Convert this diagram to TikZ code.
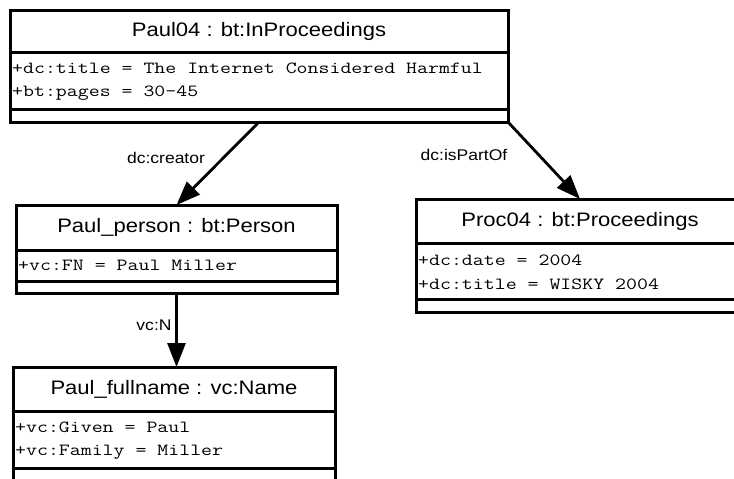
\documentclass[tikz,border=0pt]{standalone}
\usepackage{fontspec}
\setmainfont{Liberation Sans}[FakeStretch=1.13]
\setmonofont{Latin Modern Mono}[FakeStretch=1.25]
\usetikzlibrary{arrows.meta}
\tikzset{
  umlbox/.style={draw, line width=3pt, rectangle, inner sep=0pt, outer sep=0pt, anchor=north west},
  sepline/.style={line width=3pt},
  titletext/.style={inner sep=0pt, font=\fontsize{19.5}{21}\selectfont},
  attrtext/.style={inner sep=0pt, anchor=west, font=\ttfamily\fontsize{17}{19}\selectfont},
  lbl/.style={inner sep=0pt, font=\fontsize{15.5}{17}\selectfont},
  assoc/.style={line width=2.8pt, -{Triangle[length=24pt,width=18pt]}},
}
\begin{document}
\begin{tikzpicture}[x=1pt,y=-1pt]
\useasboundingbox (0,0) rectangle (734,479);
\clip (0,0) rectangle (734,479);
% Paul04
\node[umlbox, minimum width=498pt, minimum height=112pt] (b1) at (10,10) {};
\draw[sepline] (10,52) -- (508,52);
\draw[sepline] (10,109) -- (508,109);
\node[titletext] (b1t) at (259,31) {Paul04 : bt:InProceedings};
\node[attrtext] (b1a) at (12,68) {+dc:title = The Internet Considered Harmful};
\node[attrtext] (b1b) at (12,93) {+bt:pages = 30-45};
% Paul_person
\node[umlbox, minimum width=321pt, minimum height=88pt] (pp) at (16,205) {};
\draw[sepline] (16,250) -- (337,250);
\draw[sepline] (16,281) -- (337,281);
\node[titletext] (ppt) at (176.5,227) {Paul\_person : bt:Person};
\node[attrtext] (ppa) at (18,265) {+vc:FN = Paul Miller};
% Paul_fullname
\node[umlbox, minimum width=322pt, minimum height=123pt] (pf) at (13,367) {};
\draw[sepline] (13,411) -- (335,411);
\draw[sepline] (13,468) -- (335,468);
\node[titletext] (pft) at (174,389) {Paul\_fullname : vc:Name};
\node[attrtext] (pfa) at (15,427) {+vc:Given = Paul};
\node[attrtext] (pfb) at (15,452) {+vc:Family = Miller};
% Proc04
\node[umlbox, minimum width=328pt, minimum height=113pt] (pr) at (416,199) {};
\draw[sepline] (416,243) -- (744,243);
\draw[sepline] (416,299) -- (744,299);
\node[titletext] (prt) at (580,221) {Proc04 : bt:Proceedings};
\node[attrtext] (pra) at (418,260) {+dc:date = 2004};
\node[attrtext] (prb) at (418,284) {+dc:title = WISKY 2004};
% connectors
\draw[assoc] (b1.south) -- (pp.north);
\draw[assoc] (b1.south east) -- (pr.north);
\draw[assoc] (pp.south) -- (pp.south |- pf.north);
% labels
\node[lbl] (l1) at (166,158) {dc:creator};
\node[lbl] (l2) at (464,155) {dc:isPartOf};
\node[lbl] (l3) at (154,325) {vc:N};
\end{tikzpicture}
\end{document}
